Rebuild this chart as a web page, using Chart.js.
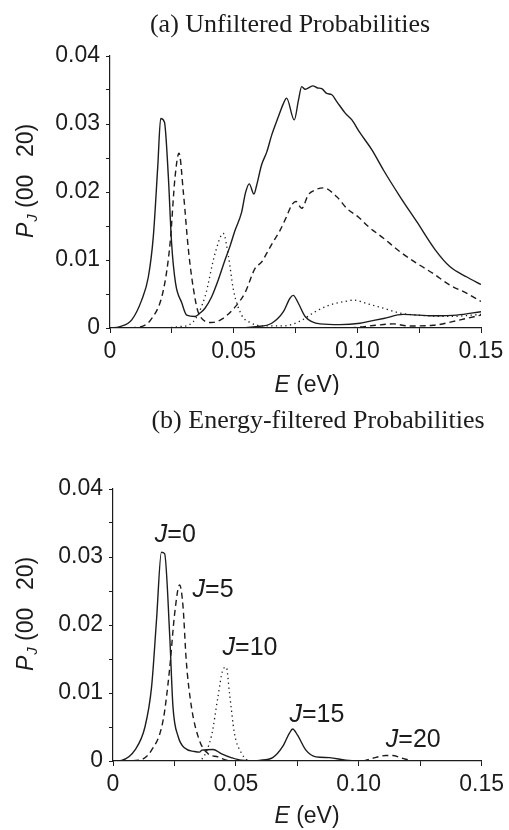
<!DOCTYPE html>
<html lang="en">

<head>
    <meta charset="UTF-8">
    <title>Rotational probabilities</title>
    <script src="https://cdn.jsdelivr.net/npm/chart.js"></script>
    <style>
        html, body {
            margin: 0;
            padding: 0;
            background: #fff;
        }

        .panel {
            position: absolute;
            left: 0;
            width: 509px;
        }
    </style>
</head>

<body>
    <!-- (a) unfiltered -->
    <canvas id="chartA" class="panel" width="509" height="395" style="top:0;height:395px"></canvas>
    <!-- (b) energy filtered -->
    <canvas id="chartB" class="panel" width="509" height="435" style="top:395px;height:435px"></canvas>

    <script>
        // ---- axis ticks ----
        const yTicks = [0, 0.01, 0.02, 0.03, 0.04];
        const xTicks = [0, 0.05, 0.10, 0.15];

        // ---- (a) unfiltered probabilities, E (eV) vs P ----
        const aJ0E = [0, 0.004, 0.0088, 0.0128, 0.0155, 0.0175, 0.0193, 0.0205, 0.022, 0.0236, 0.0249, 0.0265, 0.029, 0.031, 0.0344, 0.0364, 0.0384, 0.0411, 0.0438, 0.0465, 0.0485, 0.0505, 0.0532, 0.0548, 0.0563, 0.0582, 0.0593, 0.0613, 0.0634, 0.0654, 0.0681, 0.0701, 0.0714, 0.0745, 0.0762, 0.0775, 0.0789, 0.082, 0.0839, 0.0856, 0.0876, 0.0897, 0.0917, 0.0951, 0.0978, 0.1009, 0.1059, 0.1106, 0.1173, 0.1241, 0.1315, 0.1375, 0.1443, 0.15];
        const aJ0P = [0, 0.0002, 0.0012, 0.0041, 0.0075, 0.0134, 0.0237, 0.0308, 0.0303, 0.0222, 0.0125, 0.0066, 0.0037, 0.0019, 0.0017, 0.0022, 0.0029, 0.0046, 0.0071, 0.0100, 0.0120, 0.0143, 0.0170, 0.0199, 0.0212, 0.0197, 0.0210, 0.0240, 0.0259, 0.0284, 0.0311, 0.0330, 0.0338, 0.0306, 0.0335, 0.0355, 0.0351, 0.0356, 0.0353, 0.0352, 0.0345, 0.0343, 0.0333, 0.0316, 0.0306, 0.0288, 0.0262, 0.0232, 0.0193, 0.0156, 0.0115, 0.0090, 0.0075, 0.0064];

        const aJ5E = [0, 0.0108, 0.0169, 0.0216, 0.0243, 0.0263, 0.0279, 0.0297, 0.0317, 0.0338, 0.0358, 0.0411, 0.0452, 0.0506, 0.0546, 0.0587, 0.0613, 0.0634, 0.066, 0.0688, 0.0714, 0.0735, 0.0752, 0.0775, 0.0802, 0.0829, 0.0863, 0.0917, 0.0957, 0.1005, 0.1045, 0.1106, 0.1173, 0.1241, 0.1307, 0.1375, 0.1443, 0.15];
        const aJ5P = [0, 0.0001, 0.0014, 0.0056, 0.0125, 0.0222, 0.0257, 0.0198, 0.0115, 0.0056, 0.0022, 0.0008, 0.0013, 0.0031, 0.0052, 0.0088, 0.0097, 0.0110, 0.0127, 0.0144, 0.0164, 0.0181, 0.0186, 0.0176, 0.0196, 0.0203, 0.0206, 0.0193, 0.0176, 0.0163, 0.0149, 0.0132, 0.0112, 0.0095, 0.0080, 0.0063, 0.0051, 0.0039];

        const aJ10E = [0, 0.02, 0.028, 0.033, 0.0384, 0.0425, 0.0458, 0.0479, 0.0499, 0.0532, 0.0562, 0.062, 0.07, 0.0768, 0.083, 0.089, 0.095, 0.0985, 0.1038, 0.1106, 0.1173, 0.124, 0.1375, 0.15];
        const aJ10P = [0, 0, 0.0002, 0.0007, 0.0046, 0.0110, 0.0139, 0.0105, 0.0056, 0.0019, 0.0009, 0.0003, 0.0003, 0.0010, 0.0024, 0.0034, 0.0039, 0.0041, 0.0036, 0.0029, 0.0022, 0.0019, 0.0017, 0.0020];

        const aJ15E = [0, 0.05, 0.059, 0.0654, 0.0701, 0.0728, 0.0741, 0.0762, 0.0789, 0.085, 0.093, 0.1011, 0.1038, 0.1106, 0.1186, 0.1307, 0.1402, 0.15];
        const aJ15P = [0, 0, 0.0002, 0.0007, 0.0024, 0.0044, 0.0048, 0.0036, 0.0017, 0.0006, 0.0005, 0.0007, 0.0009, 0.0014, 0.0020, 0.0018, 0.0019, 0.0024];

        const aJ20E = [0, 0.09, 0.0998, 0.1075, 0.1146, 0.1207, 0.1307, 0.1416, 0.15];
        const aJ20P = [0, 0, 0.0001, 0.0004, 0.0006, 0.0003, 0.0004, 0.0012, 0.0019];

        // ---- (b) energy-filtered probabilities ----
        const bJ0E = [0, 0.0035, 0.0089, 0.013, 0.0157, 0.0177, 0.0197, 0.021, 0.0231, 0.0244, 0.0265, 0.0292, 0.0332, 0.0352, 0.0362, 0.0407, 0.044, 0.0481, 0.0522, 0.06, 0.15];
        const bJ0P = [0, 0.0001, 0.0016, 0.0050, 0.0109, 0.0207, 0.0307, 0.0305, 0.0183, 0.0080, 0.0036, 0.0019, 0.0014, 0.0013, 0.0016, 0.0017, 0.0011, 0.0005, 0.0001, 0, 0];

        const bJ5E = [0, 0.0103, 0.0157, 0.0204, 0.023, 0.0251, 0.0271, 0.0285, 0.0298, 0.0319, 0.0352, 0.0386, 0.0427, 0.048, 0.15];
        const bJ5P = [0, 0.0001, 0.0016, 0.0060, 0.0134, 0.0217, 0.0259, 0.0227, 0.0148, 0.0080, 0.0030, 0.0011, 0.0006, 0, 0];

        const bJ10E = [0, 0.0346, 0.04, 0.0427, 0.0447, 0.0461, 0.0474, 0.0494, 0.0522, 0.0562, 0.15];
        const bJ10P = [0, 0, 0.0036, 0.0094, 0.0134, 0.0138, 0.0100, 0.0041, 0.0012, 0, 0];

        const bJ15E = [0, 0.0555, 0.0596, 0.065, 0.069, 0.0718, 0.0731, 0.0751, 0.0785, 0.0826, 0.088, 0.0947, 0.1, 0.15];
        const bJ15P = [0, 0, 0.0001, 0.0005, 0.0021, 0.0041, 0.0047, 0.0038, 0.0016, 0.0006, 0.0005, 0.0001, 0, 0];

        const bJ20E = [0, 0.1015, 0.1056, 0.111, 0.1137, 0.1177, 0.123, 0.15];
        const bJ20P = [0, 0, 0.0004, 0.0008, 0.0008, 0.0004, 0, 0];

        // curve labels in panel (b): J value and anchor (E, P) of the text's left baseline
        const jLabelJ = ['0', '5', '10', '15', '20'];
        const jLabelE = [0.017, 0.0324, 0.0446, 0.0718, 0.111];
        const jLabelP = [0.0322, 0.0241, 0.0156, 0.0057, 0.0021];

        const INK = '#1c1c1c';
        const SANS = '"Liberation Sans", Arial, sans-serif';
        const SERIF = '"Liberation Serif", "Times New Roman", serif';

        const STYLE = {
            solid: { borderDash: [], borderWidth: 1.4 },
            dashed: { borderDash: [6, 4], borderWidth: 1.4 },
            dotted: { borderDash: [1.3, 3.4], borderWidth: 1.3 }
        };

        function series(es, ps, kind) {
            return Object.assign({
                data: es.map((e, i) => ({ x: e, y: ps[i] })),
                borderColor: INK,
                pointRadius: 0,
                fill: false,
                cubicInterpolationMode: 'monotone'
            }, STYLE[kind]);
        }

        function near(v, list) {
            return list.find(t => Math.abs(t - v) < 1e-6);
        }

        function axes(yWidth) {
            const grid = {
                drawOnChartArea: false,
                drawTicks: true,
                color: INK,
                tickColor: INK,
                tickWidth: 1
            };
            return {
                x: {
                    type: 'linear',
                    min: 0,
                    max: 0.15,
                    afterFit: s => { s.height = 40; },
                    border: { display: true, color: INK, width: 1.2 },
                    grid: Object.assign({ tickLength: 5 }, grid),
                    ticks: {
                        stepSize: 0.025,
                        autoSkip: false,
                        maxRotation: 0,
                        padding: 5,
                        color: INK,
                        font: { family: SANS, size: 23 },
                        callback: v => {
                            const t = near(v, xTicks);
                            if (t === undefined) return '';
                            return t === 0 ? '0' : t.toFixed(2);
                        }
                    }
                },
                y: {
                    min: 0,
                    max: 0.04,
                    afterFit: s => { s.width = yWidth; },
                    border: { display: true, color: INK, width: 1.2 },
                    grid: Object.assign({ tickLength: 4 }, grid),
                    ticks: {
                        stepSize: 0.005,
                        autoSkip: false,
                        padding: 6,
                        color: INK,
                        font: { family: SANS, size: 23 },
                        callback: v => {
                            const t = near(v, yTicks);
                            if (t === undefined) return '';
                            return t === 0 ? '0' : t.toFixed(2);
                        }
                    }
                }
            };
        }

        // titles, axis names and curve labels drawn on top of each panel
        function panelText(cfg) {
            return {
                id: 'panelText',
                afterDraw(chart) {
                    const ctx = chart.ctx;
                    const area = chart.chartArea;
                    ctx.save();
                    ctx.fillStyle = INK;
                    ctx.textBaseline = 'alphabetic';

                    // panel heading
                    ctx.font = '26px ' + SERIF;
                    ctx.textAlign = 'center';
                    ctx.fillText(cfg.title, cfg.titleX, cfg.titleY);

                    // x-axis name: E (eV)
                    ctx.textAlign = 'left';
                    const it = 'italic 23px ' + SANS, up = '23px ' + SANS;
                    ctx.font = it;
                    const wE = ctx.measureText('E').width;
                    ctx.font = up;
                    const wR = ctx.measureText(' (eV)').width;
                    let x0 = cfg.xTitleX - (wE + wR) / 2;
                    ctx.font = it;
                    ctx.fillText('E', x0, cfg.xTitleY);
                    ctx.font = up;
                    ctx.fillText(' (eV)', x0 + wE, cfg.xTitleY);

                    // y-axis name: P_J (00   20), read bottom to top
                    ctx.save();
                    ctx.translate(33, area.bottom - 90);
                    ctx.rotate(-Math.PI / 2);
                    ctx.font = 'italic 23px ' + SANS;
                    ctx.fillText('P', 0, 0);
                    const wP = ctx.measureText('P').width;
                    ctx.font = 'italic 15px ' + SANS;
                    ctx.fillText('J', wP + 1, 4);
                    ctx.font = '23px ' + SANS;
                    ctx.fillText('(00', 30, 0);
                    ctx.fillText('20)', 81, 0);
                    ctx.restore();

                    // curve labels: J=..
                    if (cfg.labels) {
                        const xs = chart.scales.x, ys = chart.scales.y;
                        jLabelJ.forEach((j, i) => {
                            const px = xs.getPixelForValue(jLabelE[i]);
                            const py = ys.getPixelForValue(jLabelP[i]);
                            ctx.font = 'italic 25px ' + SANS;
                            ctx.fillText('J', px, py);
                            const wJ = ctx.measureText('J').width;
                            ctx.font = '25px ' + SANS;
                            ctx.fillText('=' + j, px + wJ, py);
                        });
                    }
                    ctx.restore();
                }
            };
        }

        function makePanel(id, datasets, padding, yWidth, text) {
            return new Chart(document.getElementById(id), {
                type: 'line',
                data: { datasets },
                options: {
                    responsive: false,
                    animation: false,
                    devicePixelRatio: 1,
                    layout: { padding },
                    plugins: {
                        legend: { display: false },
                        tooltip: { enabled: false },
                        title: { display: false }
                    },
                    scales: axes(yWidth)
                },
                plugins: [panelText(text)]
            });
        }

        // canvas A is 395 tall: plot box 56..328
        makePanel('chartA', [
            series(aJ0E, aJ0P, 'solid'),
            series(aJ5E, aJ5P, 'dashed'),
            series(aJ10E, aJ10P, 'dotted'),
            series(aJ15E, aJ15P, 'solid'),
            series(aJ20E, aJ20P, 'dashed')
        ], { top: 56, right: 28, bottom: 27, left: 0 }, 110, {
            title: '(a) Unfiltered Probabilities',
            titleX: 290, titleY: 32,
            xTitleX: 307, xTitleY: 392
        });

        // canvas B starts at 395 and is 435 tall: plot box 94..366 (page 489..761)
        makePanel('chartB', [
            series(bJ0E, bJ0P, 'solid'),
            series(bJ5E, bJ5P, 'dashed'),
            series(bJ10E, bJ10P, 'dotted'),
            series(bJ15E, bJ15P, 'solid'),
            series(bJ20E, bJ20P, 'dashed')
        ], { top: 94, right: 26, bottom: 29, left: 0 }, 113, {
            title: '(b) Energy-filtered Probabilities',
            titleX: 318, titleY: 33,
            xTitleX: 307, xTitleY: 428,
            labels: true
        });
    </script>
</body>

</html>
